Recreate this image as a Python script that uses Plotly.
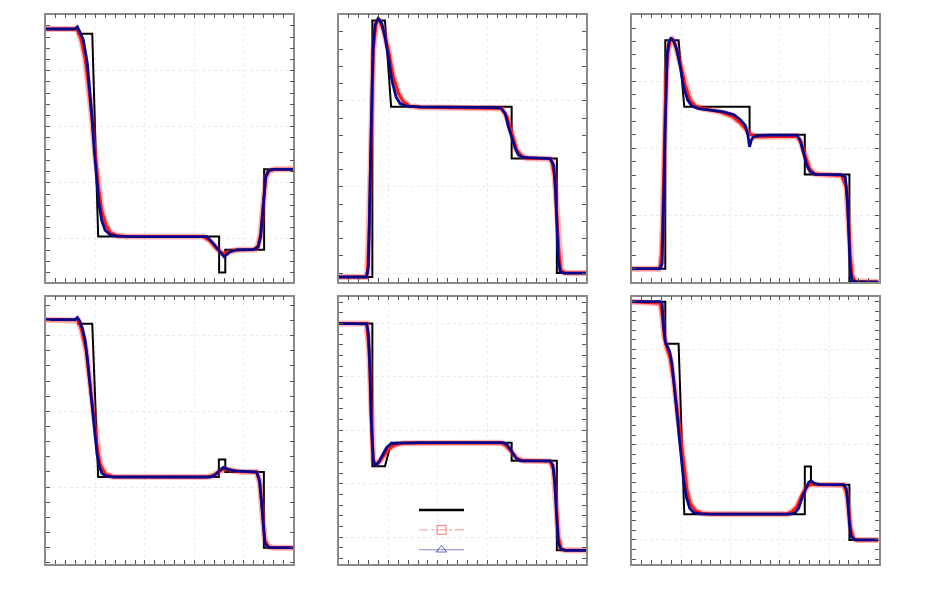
import plotly.graph_objects as go

# ---------------- data ----------------
# Panel 1
x1e = [0, 0.13, 0.13, 0.187, 0.211, 0.700, 0.700, 0.725, 0.725, 0.882, 0.882, 1.0]
y1e = [0.949, 0.949, 0.932, 0.932, 0.208, 0.208, 0.080, 0.080, 0.161, 0.161, 0.448, 0.448]
x1r = [0, 0.121, 0.131, 0.144, 0.158, 0.171, 0.185, 0.198, 0.212, 0.225, 0.243, 0.261, 0.286, 0.326, 0.636, 0.663, 0.690, 0.710, 0.728, 0.751, 0.784, 0.845, 0.858, 0.868, 0.876, 0.883, 0.889, 0.903, 0.926, 1.0]
y1r = [0.949, 0.949, 0.939, 0.904, 0.844, 0.755, 0.636, 0.505, 0.386, 0.302, 0.249, 0.221, 0.212, 0.208, 0.208, 0.193, 0.165, 0.150, 0.148, 0.157, 0.161, 0.162, 0.177, 0.219, 0.302, 0.374, 0.421, 0.443, 0.448, 0.448]
x1b = [0, 0.117, 0.127, 0.137, 0.151, 0.167, 0.178, 0.186, 0.195, 0.205, 0.214, 0.225, 0.239, 0.259, 0.286, 0.353, 0.650, 0.677, 0.704, 0.720, 0.744, 0.771, 0.838, 0.858, 0.868, 0.876, 0.881, 0.888, 0.899, 0.919, 1.0]
y1b = [0.949, 0.949, 0.957, 0.939, 0.910, 0.826, 0.719, 0.636, 0.517, 0.410, 0.326, 0.267, 0.231, 0.215, 0.210, 0.208, 0.208, 0.183, 0.154, 0.136, 0.154, 0.161, 0.162, 0.171, 0.207, 0.290, 0.362, 0.421, 0.443, 0.448, 0.448]

# Panel 2
x2e = [0, 0.135, 0.135, 0.186, 0.211, 0.699, 0.699, 0.882, 0.882, 1.0]
y2e = [-0.023, -0.023, 1.467, 1.467, 0.965, 0.965, 0.665, 0.665, 0.0, 0.0]
x2r = [0, 0.109, 0.115, 0.123, 0.128, 0.134, 0.139, 0.150, 0.161, 0.180, 0.200, 0.220, 0.241, 0.261, 0.288, 0.328, 0.659, 0.680, 0.700, 0.720, 0.741, 0.761, 0.855, 0.862, 0.873, 0.882, 0.891, 0.899, 0.916, 1.0]
y2r = [-0.023, -0.023, 0.006, 0.267, 0.616, 1.004, 1.295, 1.450, 1.475, 1.411, 1.295, 1.140, 1.043, 0.994, 0.969, 0.963, 0.955, 0.907, 0.810, 0.713, 0.678, 0.667, 0.663, 0.645, 0.558, 0.345, 0.112, 0.016, 0.0, 0.0]
x2b = [0, 0.112, 0.119, 0.126, 0.130, 0.134, 0.139, 0.146, 0.159, 0.173, 0.186, 0.200, 0.214, 0.231, 0.247, 0.274, 0.328, 0.653, 0.673, 0.686, 0.700, 0.714, 0.727, 0.747, 0.855, 0.869, 0.876, 0.882, 0.888, 0.896, 0.909, 1.0]
y2b = [-0.023, -0.023, 0.035, 0.422, 0.810, 1.101, 1.333, 1.440, 1.479, 1.450, 1.372, 1.256, 1.120, 1.023, 0.984, 0.969, 0.965, 0.961, 0.926, 0.849, 0.791, 0.723, 0.684, 0.671, 0.665, 0.626, 0.500, 0.267, 0.074, 0.006, 0.0, 0.0]

# Panel 3
x3e = [0, 0.135, 0.135, 0.189, 0.212, 0.477, 0.477, 0.701, 0.701, 0.882, 0.882, 1.0]
y3e = [0.100, 0.100, 1.808, 1.808, 1.311, 1.311, 1.101, 1.101, 0.804, 0.804, 0.0, 0.0]
x3r = [0, 0.109, 0.115, 0.120, 0.124, 0.128, 0.134, 0.139, 0.147, 0.155, 0.164, 0.176, 0.196, 0.216, 0.236, 0.257, 0.291, 0.358, 0.405, 0.439, 0.459, 0.480, 0.500, 0.534, 0.669, 0.685, 0.703, 0.720, 0.739, 0.764, 0.851, 0.869, 0.878, 0.885, 0.893, 0.905, 1.0]
y3r = [0.100, 0.100, 0.125, 0.212, 0.412, 0.811, 1.261, 1.561, 1.735, 1.805, 1.815, 1.773, 1.635, 1.473, 1.361, 1.316, 1.296, 1.273, 1.241, 1.191, 1.149, 1.106, 1.086, 1.086, 1.091, 1.049, 0.949, 0.849, 0.811, 0.804, 0.796, 0.712, 0.462, 0.212, 0.050, 0.005, 0.0]
x3b = [0, 0.115, 0.122, 0.126, 0.130, 0.134, 0.138, 0.143, 0.150, 0.158, 0.169, 0.182, 0.196, 0.209, 0.226, 0.243, 0.270, 0.318, 0.372, 0.412, 0.439, 0.459, 0.470, 0.477, 0.484, 0.493, 0.514, 0.561, 0.669, 0.682, 0.696, 0.709, 0.723, 0.743, 0.845, 0.865, 0.874, 0.880, 0.885, 0.892, 0.912, 1.0]
y3b = [0.100, 0.100, 0.137, 0.362, 0.737, 1.111, 1.486, 1.710, 1.798, 1.823, 1.805, 1.735, 1.610, 1.461, 1.361, 1.316, 1.298, 1.286, 1.273, 1.253, 1.216, 1.174, 1.099, 1.011, 1.061, 1.086, 1.096, 1.099, 1.099, 1.061, 0.961, 0.874, 0.824, 0.806, 0.804, 0.787, 0.612, 0.362, 0.112, 0.012, 0.0, 0.0]

# Panel 4
x4e = [0, 0.13, 0.13, 0.187, 0.211, 0.699, 0.699, 0.725, 0.725, 0.881, 0.881, 1.0]
y4e = [1.606, 1.606, 1.579, 1.579, 0.566, 0.566, 0.681, 0.681, 0.599, 0.599, 0.099, 0.099]
x4r = [0, 0.121, 0.131, 0.144, 0.162, 0.175, 0.189, 0.205, 0.218, 0.239, 0.272, 0.650, 0.677, 0.704, 0.724, 0.744, 0.784, 0.852, 0.865, 0.876, 0.885, 0.899, 0.919, 1.0]
y4r = [1.606, 1.606, 1.599, 1.537, 1.405, 1.229, 1.031, 0.789, 0.656, 0.586, 0.568, 0.566, 0.577, 0.606, 0.621, 0.612, 0.601, 0.599, 0.524, 0.304, 0.150, 0.106, 0.099, 0.099]
x4b = [0, 0.117, 0.127, 0.137, 0.147, 0.158, 0.168, 0.178, 0.187, 0.197, 0.206, 0.216, 0.226, 0.243, 0.272, 0.663, 0.683, 0.704, 0.717, 0.737, 0.764, 0.852, 0.863, 0.872, 0.879, 0.885, 0.899, 0.919, 1.0]
y4b = [1.606, 1.606, 1.621, 1.593, 1.548, 1.471, 1.339, 1.185, 1.009, 0.855, 0.722, 0.634, 0.590, 0.573, 0.566, 0.566, 0.579, 0.612, 0.630, 0.617, 0.606, 0.599, 0.546, 0.392, 0.216, 0.128, 0.101, 0.099, 0.099]

# Panel 5
x5e = [0, 0.135, 0.135, 0.186, 0.211, 0.699, 0.699, 0.882, 0.882, 1.0]
y5e = [1.0, 1.0, 0.466, 0.466, 0.554, 0.554, 0.486, 0.486, 0.151, 0.151]
x5r = [0, 0.112, 0.122, 0.128, 0.134, 0.139, 0.150, 0.164, 0.180, 0.200, 0.227, 0.261, 0.653, 0.673, 0.693, 0.720, 0.747, 0.855, 0.869, 0.880, 0.888, 0.899, 0.916, 1.0]
y5r = [1.0, 1.0, 0.900, 0.688, 0.551, 0.489, 0.474, 0.483, 0.504, 0.529, 0.546, 0.552, 0.554, 0.545, 0.526, 0.495, 0.486, 0.484, 0.451, 0.327, 0.202, 0.158, 0.151, 0.151]
x5b = [0, 0.112, 0.119, 0.126, 0.130, 0.134, 0.139, 0.146, 0.155, 0.166, 0.180, 0.193, 0.209, 0.234, 0.328, 0.666, 0.682, 0.700, 0.718, 0.734, 0.855, 0.866, 0.874, 0.881, 0.888, 0.899, 0.916, 1.0]
y5b = [1.0, 0.998, 0.963, 0.813, 0.651, 0.539, 0.483, 0.470, 0.474, 0.489, 0.514, 0.536, 0.549, 0.552, 0.554, 0.554, 0.545, 0.520, 0.495, 0.486, 0.486, 0.470, 0.401, 0.277, 0.177, 0.155, 0.151, 0.151]

# Panel 6
x6e = [0, 0.135, 0.135, 0.189, 0.212, 0.701, 0.701, 0.726, 0.726, 0.882, 0.882, 1.0]
y6e = [1.0, 1.0, 0.824, 0.824, 0.108, 0.108, 0.308, 0.308, 0.232, 0.232, 0.0, 0.0]
x6r = [0, 0.115, 0.123, 0.131, 0.142, 0.155, 0.169, 0.182, 0.196, 0.209, 0.223, 0.236, 0.257, 0.284, 0.318, 0.628, 0.649, 0.669, 0.689, 0.709, 0.730, 0.750, 0.858, 0.872, 0.880, 0.888, 0.899, 0.912, 1.0]
y6r = [1.0, 0.993, 0.937, 0.853, 0.804, 0.762, 0.671, 0.559, 0.434, 0.308, 0.210, 0.154, 0.123, 0.112, 0.109, 0.109, 0.119, 0.140, 0.189, 0.224, 0.235, 0.232, 0.231, 0.196, 0.112, 0.042, 0.007, 0.0, 0.0]
x6b = [0, 0.115, 0.122, 0.128, 0.135, 0.142, 0.153, 0.162, 0.172, 0.180, 0.189, 0.199, 0.209, 0.220, 0.234, 0.250, 0.277, 0.318, 0.642, 0.662, 0.676, 0.689, 0.703, 0.716, 0.726, 0.739, 0.764, 0.858, 0.869, 0.876, 0.882, 0.889, 0.905, 1.0]
y6b = [1.0, 1.0, 0.993, 0.895, 0.832, 0.818, 0.790, 0.741, 0.643, 0.545, 0.462, 0.350, 0.252, 0.182, 0.133, 0.115, 0.109, 0.108, 0.108, 0.115, 0.133, 0.175, 0.213, 0.241, 0.249, 0.238, 0.232, 0.232, 0.217, 0.154, 0.070, 0.014, 0.0, 0.0]

# axis ranges / tick spacing per panel
y_ranges = [[0.046, 1.0], [-0.052, 1.5], [0.0, 2.0], [-0.009, 1.758], [0.1, 1.1], [-0.101, 1.021]]
y_dticks = [0.2, 0.5, 0.5, 0.5, 0.2, 0.2]
y_minor = [0.04, 0.1, 0.1, 0.1, 0.04, 0.04]

panels = [
    (x1e, y1e, x1r, y1r, x1b, y1b),
    (x2e, y2e, x2r, y2r, x2b, y2b),
    (x3e, y3e, x3r, y3r, x3b, y3b),
    (x4e, y4e, x4r, y4r, x4b, y4b),
    (x5e, y5e, x5r, y5r, x5b, y5b),
    (x6e, y6e, x6r, y6r, x6b, y6b),
]

# ---------------- figure ----------------
W, H = 925, 600
col_px = [(46, 293.3), (339, 586), (632, 878.5)]
row_px = [(14.7, 282), (296.7, 564)]

RED = "rgb(255,25,25)"
BLUE = "rgb(8,8,140)"

fig = go.Figure()
layout = dict(width=W, height=H, margin=dict(l=0, r=0, t=0, b=0),
              paper_bgcolor="white", plot_bgcolor="white", showlegend=True)

for i, (xe, ye, xr, yr, xb, yb) in enumerate(panels):
    n = "" if i == 0 else str(i + 1)
    xa, ya = "x" + n, "y" + n
    fig.add_trace(go.Scatter(x=xe, y=ye, mode="lines", xaxis=xa, yaxis=ya,
                             line=dict(color="black", width=2), showlegend=False))
    fig.add_trace(go.Scatter(x=xr, y=yr, mode="lines", xaxis=xa, yaxis=ya,
                             line=dict(color="rgba(255,40,40,0.35)", width=6), showlegend=False))
    fig.add_trace(go.Scatter(x=xr, y=yr, mode="lines", xaxis=xa, yaxis=ya,
                             line=dict(color=RED, width=3), showlegend=False))
    fig.add_trace(go.Scatter(x=xb, y=yb, mode="lines", xaxis=xa, yaxis=ya,
                             line=dict(color=BLUE, width=2.8), showlegend=False))
    c, r = i % 3, i // 3
    x0, x1 = col_px[c]
    yt, yb_ = row_px[r]
    common = dict(showline=True, linecolor="#8a8a8a", linewidth=1.5, mirror="ticks",
                  ticks="inside", ticklen=4, tickcolor="#555", tickwidth=1,
                  showticklabels=False, zeroline=False,
                  showgrid=True, gridcolor="#ebebeb", griddash="dot", gridwidth=1)
    layout["xaxis" + n] = dict(common, domain=[x0 / W, x1 / W], range=[0, 1],
                               anchor=ya, tick0=0, dtick=0.2,
                               minor=dict(dtick=0.04, ticks="inside", ticklen=4,
                                          tickcolor="#555", showgrid=False))
    layout["yaxis" + n] = dict(common, domain=[1 - yb_ / H, 1 - yt / H],
                               range=y_ranges[i], anchor=xa, tick0=0, dtick=y_dticks[i],
                               minor=dict(dtick=y_minor[i], ticks="inside", ticklen=4,
                                          tickcolor="#555", showgrid=False))

# legend entries (no text, symbols only)
fig.add_trace(go.Scatter(x=[None], y=[None], name=" ", mode="lines",
                         line=dict(color="black", width=2.5)))
fig.add_trace(go.Scatter(x=[None], y=[None], name=" ", mode="lines+markers",
                         line=dict(color="rgba(255,60,60,0.55)", width=1, dash="dashdot"),
                         marker=dict(symbol="square-open", size=9, color="rgba(255,60,60,0.7)")))
fig.add_trace(go.Scatter(x=[None], y=[None], name=" ", mode="lines+markers",
                         line=dict(color="rgba(40,40,160,0.55)", width=1),
                         marker=dict(symbol="triangle-up-open", size=9, color="rgba(40,40,160,0.7)")))

layout["legend"] = dict(x=414 / W, y=1 - 495 / H, xanchor="left", yanchor="top",
                        bgcolor="rgba(0,0,0,0)", borderwidth=0, itemwidth=45,
                        tracegroupgap=0,
                        font=dict(size=13, family="DejaVu Sans"))
fig.update_layout(**layout)
fig.write_html("out.html", config={"displayModeBar": False},
               post_script="document.body.style.margin='0px';")
